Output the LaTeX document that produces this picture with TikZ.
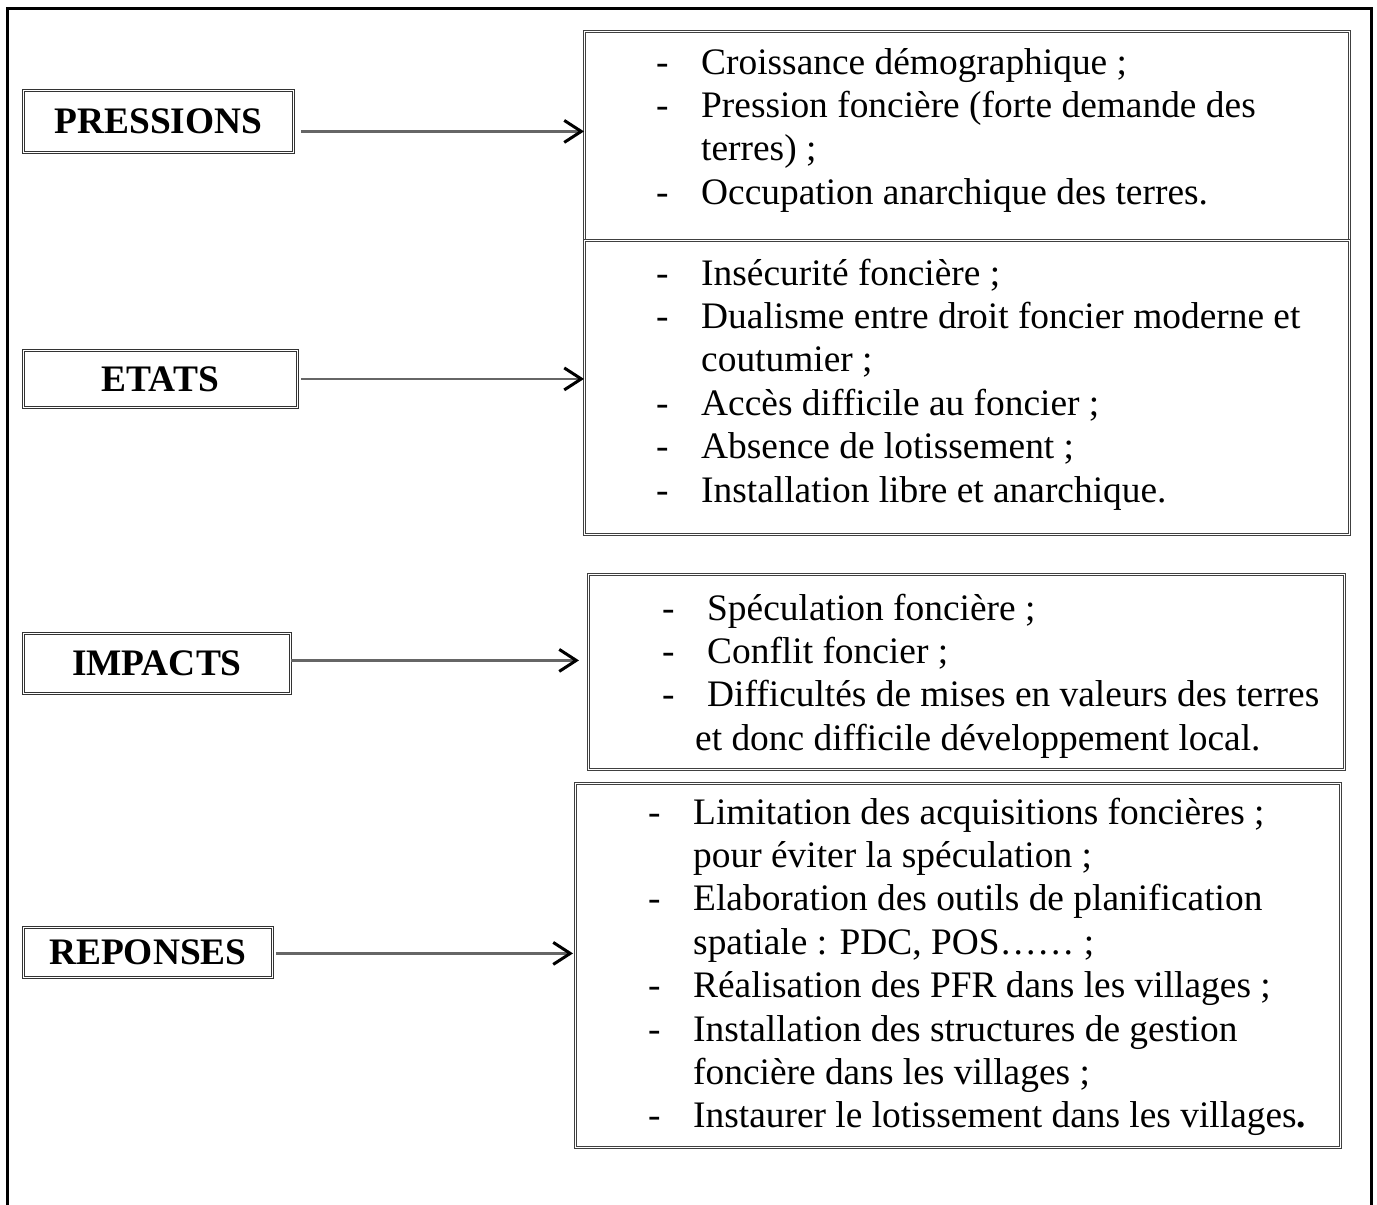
\documentclass[tikz,border=0pt]{standalone}
\usepackage{fontspec}
\setmainfont{Liberation Serif}
\usetikzlibrary{arrows.meta}
\newcommand{\itm}[2][45pt]{\par\noindent\hangindent=#1\hangafter=1\makebox[#1][l]{-}#2}
\newcommand{\nl}{\hfil\break}
\newcommand{\lst}[1]{\parbox[t]{720pt}{\raggedright\fontsize{37.4pt}{43.4pt}\selectfont #1}}
\tikzset{
  lab/.style={draw=black!80, double, double distance=1.6pt, line width=0.8pt, anchor=north west, inner sep=0pt, font=\fontsize{37.4pt}{43.4pt}\selectfont\bfseries},
  cbox/.style={draw=black!75, double, double distance=1.4pt, line width=0.8pt, anchor=north west, inner sep=0pt},
  txt/.style={anchor=base west, inner sep=0pt},
  arr/.style={draw=black!60, line width=2.2pt, -{Straight Barb[length=17pt,width=22pt,line width=3pt,color=black]}}
}
\begin{document}
\begin{tikzpicture}[x=1pt,y=-1pt]
\useasboundingbox (0,0) rectangle (1377,1205);
\draw[line width=3pt] (7,1210) -- (7,8) -- (1371,8) -- (1371,1210);
% label boxes
\node[lab, minimum width=270pt, minimum height=62pt] (p) at (23,90) {PRESSIONS};
\node[lab, minimum width=274pt, minimum height=57pt] (e) at (23,350) {ETATS};
\node[lab, minimum width=267pt, minimum height=60pt] (i) at (23,633) {IMPACTS};
\node[lab, minimum width=249pt, minimum height=50pt] (r) at (23,927) {REPONSES};
% content boxes
\node[cbox, minimum width=765pt, minimum height=209pt] (b1) at (584,31) {};
\node[cbox, minimum width=765pt, minimum height=294pt] (b2) at (584,240) {};
\node[cbox, minimum width=756pt, minimum height=195pt] (b3) at (588,574) {};
\node[cbox, minimum width=765pt, minimum height=364pt] (b4) at (575,783) {};
% texts
\node[txt] (t1) at (656,74) {\lst{%
\itm{Croissance démographique ;}
\itm{Pression foncière (forte demande des\nl terres) ;}
\itm{Occupation anarchique des terres.}}};
\node[txt] (t2) at (656,285) {\lst{%
\itm{Insécurité foncière ;}
\itm{Dualisme entre droit foncier moderne et\nl coutumier ;}
\itm{Accès difficile au foncier ;}
\itm{Absence de lotissement ;}
\itm{Installation libre et anarchique.}}};
\node[txt] (t3) at (662,620) {\lst{%
\itm{Spéculation foncière ;}
\itm{Conflit foncier ;}
\itm{Difficultés de mises en valeurs des terres\nl \hspace*{-12pt}et donc difficile développement local.}}};
\node[txt] (t4) at (648,824) {\lst{%
\itm{Limitation des acquisitions foncières ;\nl pour éviter la spéculation ;}
\itm{Elaboration des outils de planification\nl spatiale : PDC, POS…… ;}
\itm{Réalisation des PFR dans les villages ;}
\itm{Installation des structures de gestion\nl foncière dans les villages ;}
\itm{Instaurer le lotissement dans les villages\textbf{.}}}};
% arrows
\draw[arr] ([xshift=7pt,yshift=-10pt]p.east) -- ([yshift=-10pt]p.east -| b1.west);
\draw[arr] ([xshift=3pt]e.east) -- (e.east -| b2.west);
\draw[arr] ([yshift=3pt]i.east) -- ([xshift=-9pt,yshift=3pt]i.east -| b3.west);
\draw[arr] ([xshift=3pt,yshift=-1pt]r.east) -- ([xshift=-2pt,yshift=-1pt]r.east -| b4.west);
\end{tikzpicture}
\end{document}
